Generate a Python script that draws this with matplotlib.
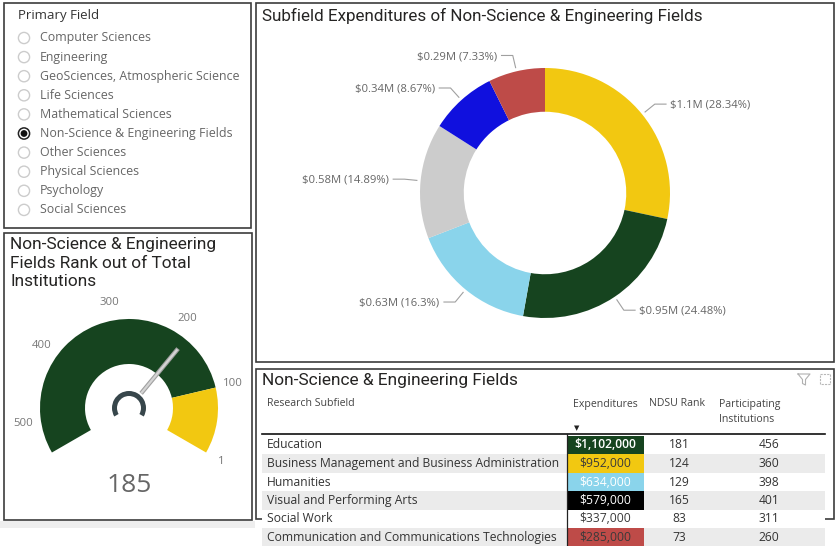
import numpy as np
import matplotlib.pyplot as plt
from matplotlib.patches import Rectangle, Circle, Wedge

plt.rcParams['font.family'] = ['Open Sans', 'DejaVu Sans']
TITLE_FONT = ['Roboto', 'DejaVu Sans']

# ---- data ----
fields = ["Computer Sciences", "Engineering", "GeoSciences, Atmospheric Science",
          "Life Sciences", "Mathematical Sciences", "Non-Science & Engineering Fields",
          "Other Sciences", "Physical Sciences", "Psychology", "Social Sciences"]
selected_field = "Non-Science & Engineering Fields"

subfields = ["Education", "Business Management and Business Administration", "Humanities",
             "Visual and Performing Arts", "Social Work",
             "Communication and Communications Technologies"]
expenditures = [1102000, 952000, 634000, 579000, 337000, 285000]
ndsu_rank = [181, 124, 129, 165, 83, 73]
participating = [456, 360, 398, 401, 311, 260]

donut_labels = ["$1.1M (28.34%)", "$0.95M (24.48%)", "$0.63M (16.3%)",
                "$0.58M (14.89%)", "$0.34M (8.67%)", "$0.29M (7.33%)"]
donut_colors = ['#F2C811', '#16441F', '#8AD4EB', '#CCCCCC', '#1010DE', '#BE4B48']
cell_colors = ['#16441F', '#F2C811', '#8AD4EB', '#000000', '#FFFFFF', '#BE4B48']
cell_text = ['white', '#3a3a3a', 'white', 'white', '#3a3a3a', '#3a3a3a']

gauge_min, gauge_max = 1, 550
gauge_ticks = [1, 100, 200, 300, 400, 500]
gauge_band = 100      # yellow part of the dial
gauge_target = 185    # needle
gauge_value = 185     # callout

W, H = 836, 546
fig = plt.figure(figsize=(W / 100, H / 100), dpi=100)
ax = fig.add_axes([0, 0, 1, 1])
ax.set_xlim(0, W)
ax.set_ylim(H, 0)
ax.axis('off')

def panel(x0, y0, x1, y1):
    ax.add_patch(Rectangle((x0, y0), x1 - x0, y1 - y0, fill=False,
                           ec='#3c3c3c', lw=1.2, zorder=1))

# light strip under the left column
ax.add_patch(Rectangle((0, 521), 255, 7, fc='#eeeeee', ec='none', zorder=0))

# ---- slicer ----
panel(4, 3, 251, 228)
ax.text(18, 16, "Primary Field", fontsize=9.5, color='#333333', va='center')
for i, f in enumerate(fields):
    y = 38 + 19.1 * i
    if f == selected_field:
        ax.add_patch(Circle((24, y), 5.6, fc='white', ec='#222222', lw=1.1, zorder=2))
        ax.add_patch(Circle((24, y), 3.4, fc='#111111', ec='none', zorder=3))
    else:
        ax.add_patch(Circle((24, y), 5.6, fc='white', ec='#cccccc', lw=1.0, zorder=2))
    ax.text(40, y, f, fontsize=8.95, color='#666666', va='center')

# ---- gauge ----
panel(4, 233, 252, 520)
gauge_title = "Non-Science & Engineering\nFields Rank out of Total\nInstitutions"
for i, line in enumerate(gauge_title.split('\n')):
    ax.text(10, 245 + 18.5 * i, line, fontsize=12.4, color='#252423',
            va='center', family=TITLE_FONT)

gcx, gcy, R, Ri = 129, 408, 89, 44

def gang(v):
    return -30 + (v - gauge_min) / (gauge_max - gauge_min) * 240

# y axis is flipped, so visual angles are negated
ax.add_patch(Wedge((gcx, gcy), R, -210, -gang(gauge_band), width=R - Ri,
                   fc='#16441F', ec='none', zorder=2))
ax.add_patch(Wedge((gcx, gcy), R, -gang(gauge_band), 30, width=R - Ri,
                   fc='#F2C811', ec='none', zorder=2))
for v in gauge_ticks:
    t = np.deg2rad(gang(v))
    ax.text(gcx + 107 * np.cos(t), gcy - 107 * np.sin(t), str(v),
            fontsize=8.2, color='#777777', ha='center', va='center')
t = np.deg2rad(gang(gauge_target))
ax.plot([gcx + 19 * np.cos(t), gcx + 77 * np.cos(t)],
        [gcy - 19 * np.sin(t), gcy - 77 * np.sin(t)],
        color='#a0a0a0', lw=3.2, solid_capstyle='butt', zorder=3)
ax.plot([gcx + 19 * np.cos(t), gcx + 76 * np.cos(t)],
        [gcy - 19 * np.sin(t), gcy - 76 * np.sin(t)],
        color='#d4d4d4', lw=1.6, solid_capstyle='butt', zorder=4)
ax.add_patch(Wedge((gcx, gcy), 17, -210, 30, width=5, fc='#37464b', ec='none', zorder=4))
ax.text(gcx, 485, str(gauge_value), fontsize=19, color='#666666',
        ha='center', va='center')

# ---- donut ----
panel(256, 3, 834, 362)
ax.text(262, 16, "Subfield Expenditures of Non-Science & Engineering Fields",
        fontsize=12.25, color='#252423', va='center', family=TITLE_FONT)

cx, cy, rad = 545, 193, 125
dax = fig.add_axes([(cx - 1.2 * rad) / W, (H - cy - 1.2 * rad) / H,
                    2.4 * rad / W, 2.4 * rad / H])
vals = np.array(expenditures) / 1e6
wedges, _ = dax.pie(vals, colors=donut_colors, startangle=90, counterclock=False,
                    radius=1, wedgeprops=dict(width=0.35, linewidth=0))
dax.set_xlim(-1.2, 1.2)
dax.set_ylim(-1.2, 1.2)
dax.axis('off')
for w, lab in zip(wedges, donut_labels):
    a = np.deg2rad((w.theta1 + w.theta2) / 2)
    c, s = np.cos(a), np.sin(a)
    sgn = 1 if c >= 0 else -1
    x2, y2 = 1.13 * c, 1.13 * s
    x3 = x2 + sgn * 0.09
    dax.plot([1.03 * c, x2, x3], [1.03 * s, y2, y2], color='#a0a0a0', lw=0.8,
             clip_on=False)
    dax.text(x3 + sgn * 0.035, y2 - 0.01, lab, fontsize=8.1, color='#666666',
             ha='left' if sgn > 0 else 'right', va='center', clip_on=False)

# ---- table ----
panel(256, 369, 834, 519)
ax.text(262, 381, "Non-Science & Engineering Fields", fontsize=12.4,
        color='#252423', va='center', family=TITLE_FONT)
# filter and focus icons
ax.plot([798, 810, 805.5, 805.5, 802.5, 802.5, 798], [374, 374, 379.5, 385, 383.5, 379.5, 374],
        color='#b0b0b0', lw=0.8)
ax.add_patch(Rectangle((820, 374), 10, 10, fill=False, ec='#b8b8b8', lw=0.8, ls=(0, (2, 1))))

hdr = dict(fontsize=7.6, color='#444444', va='center')
ax.text(267, 404, "Research Subfield", **hdr)
ax.text(573, 404, "Expenditures", **hdr)
ax.text(649, 404, "NDSU Rank", **hdr)
ax.text(719, 404, "Participating", **hdr)
ax.text(719, 419, "Institutions", **hdr)
ax.text(577, 429, "\u25bc", fontsize=5, color='#222222', ha='center', va='center')
ax.plot([262, 825], [434, 434], color='#111111', lw=1.2, zorder=6)

row_h = 18.5
for i, name in enumerate(subfields):
    yc = 445 + row_h * i
    bg = '#ebebeb' if i % 2 else 'white'
    ax.add_patch(Rectangle((262, yc - row_h / 2), 563, row_h, fc=bg, ec='none', zorder=4))
    ax.add_patch(Rectangle((567, yc - row_h / 2), 77, row_h, fc=cell_colors[i],
                           ec='none', zorder=5))
    ax.text(267, yc, name, fontsize=8.7, color='#333333', va='center', zorder=6)
    ax.text(605.5, yc, f"${expenditures[i]:,}", fontsize=8.7, color=cell_text[i],
            ha='center', va='center', zorder=6,
            fontweight='semibold' if i == 0 else 'normal')
    ax.text(679, yc, str(ndsu_rank[i]), fontsize=8.7, color='#333333',
            ha='center', va='center', zorder=6)
    ax.text(769, yc, str(participating[i]), fontsize=8.7, color='#333333',
            ha='center', va='center', zorder=6)
ax.plot([567, 567], [434, H], color='#222222', lw=0.9, zorder=6)

fig.savefig("out.png", dpi=100)
